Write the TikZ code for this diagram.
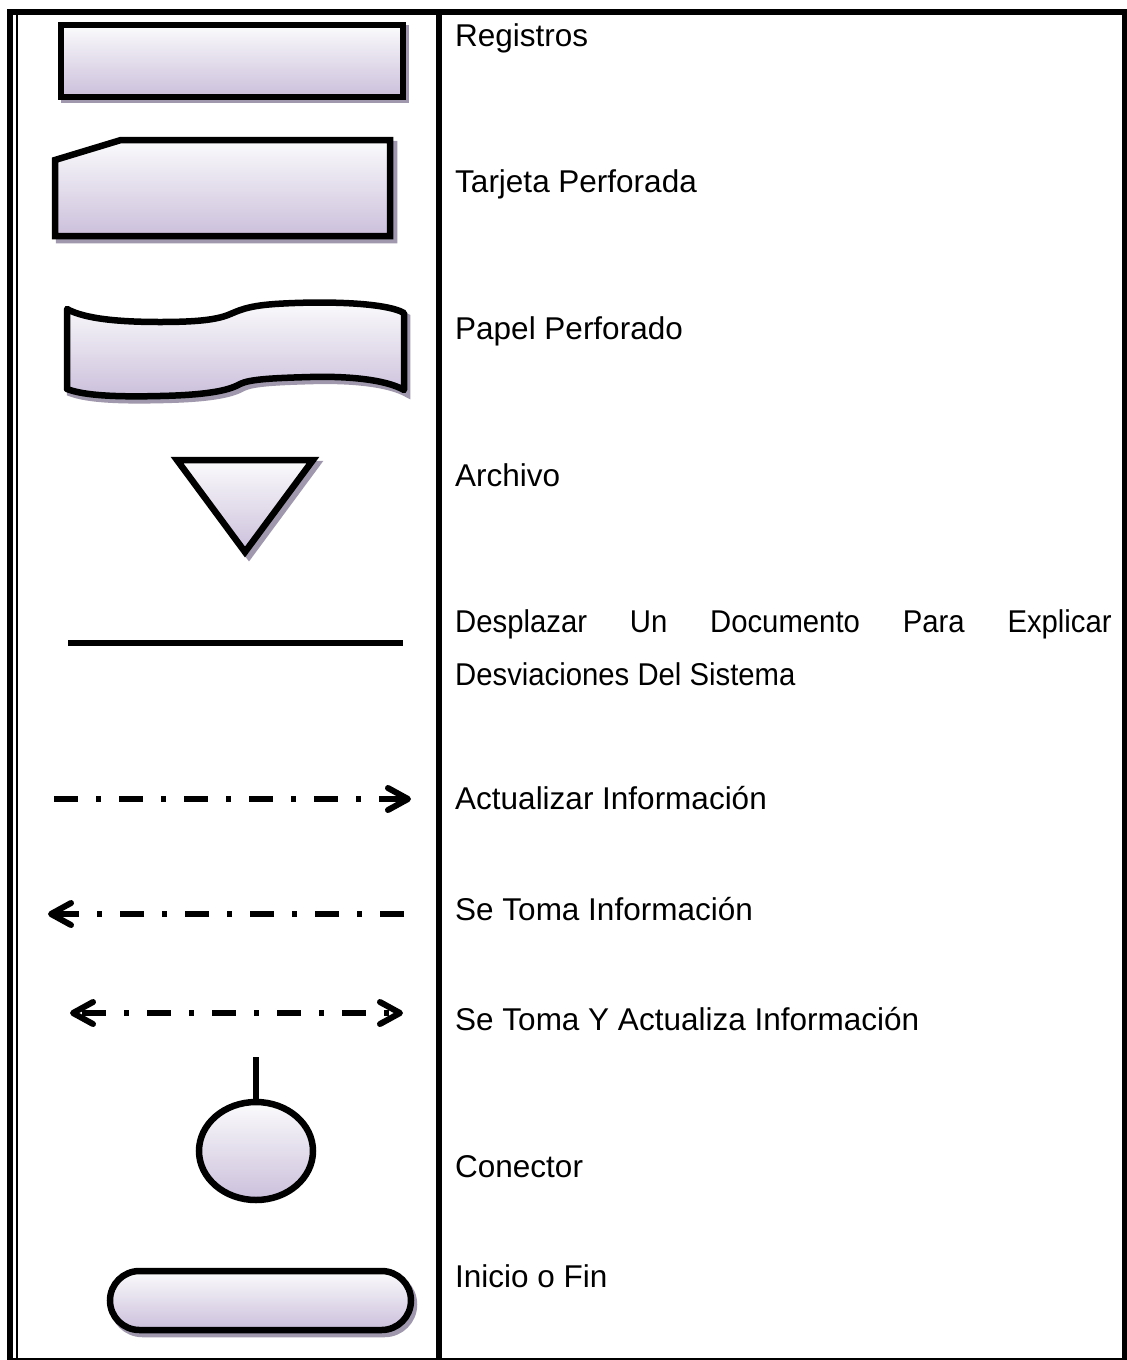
\documentclass[tikz,border=0pt]{standalone}
\usepackage{fontspec}
\setmainfont{Liberation Sans}
\usepackage{graphicx}
\usetikzlibrary{arrows.meta,shapes.geometric}
\definecolor{symtop}{RGB}{251,251,252}
\definecolor{symbot}{RGB}{203,191,219}
\definecolor{shadowc}{RGB}{160,152,172}
\newcommand\lblfont{\fontsize{31.5}{53}\selectfont}
\tikzset{
  sym/.style={draw=black, line width=6.5pt, top color=symtop, bottom color=symbot, line join=miter},
  symshadow/.style={draw=shadowc, fill=shadowc, line width=6.5pt},
  frame/.style={draw=black, line cap=butt},
  dashline/.style={draw=black, line width=6pt, line cap=butt, dash pattern=on 24pt off 18pt on 5pt off 18pt},
  barb/.style={-{Straight Barb[length=20pt,width=22pt,round]}},
  lbl/.style={anchor=base west, inner sep=0pt, font=\lblfont}
}
\begin{document}
\begin{tikzpicture}[x=1pt,y=-1pt]
\useasboundingbox (0,0) rectangle (1127,1360);
\fill[white] (0,0) rectangle (1127,1360);
% frame
\coordinate (tl) at (7,12);
\coordinate (tr) at (1127,12);
\draw[frame, line width=6.5pt] (tl) -- (tr);
\coordinate (lt) at (10,9);
\coordinate (lb) at (10,1360);
\draw[frame, line width=6pt] (lt) -- (lb);
\coordinate (it) at (16.5,15);
\coordinate (ib) at (16.5,1360);
\draw[frame, line width=2pt] (it) -- (ib);
\coordinate (rt) at (1124.5,9);
\coordinate (rb) at (1124.5,1360);
\draw[frame, line width=6pt] (rt) -- (rb);
\coordinate (bl) at (7,1359);
\coordinate (br) at (1127,1359);
\draw[frame, line width=2pt] (bl) -- (br);
\coordinate (dt) at (439,12);
\coordinate (db) at (439,1360);
\draw[frame, line width=6.5pt] (dt) -- (db);

% 1 Registros
\draw[symshadow, shift={(3,3)}] (61,25) rectangle (403,97);
\draw[sym] (61,25) rectangle (403,97);
% 2 Tarjeta perforada
\draw[symshadow, shift={(4,4)}] (55,160) -- (121,140) -- (390,140) -- (390,236) -- (55,236) -- cycle;
\draw[sym] (55,160) -- (121,140) -- (390,140) -- (390,236) -- (55,236) -- cycle;
% 3 Papel perforado
\def\tape{(67,309) .. controls (85,319) and (120,322) .. (160,322)
  .. controls (195,322) and (215,320) .. (228,315)
  .. controls (238,311) and (246,306) .. (275,304)
  .. controls (320,301) and (385,302) .. (404,313)
  -- (404,390)
  .. controls (385,379) and (345,376) .. (310,377)
  .. controls (275,378) and (250,379) .. (240,384)
  .. controls (228,391) and (205,395) .. (160,396)
  .. controls (120,397) and (85,396) .. (67,389) -- cycle}
\draw[symshadow, shift={(3,4)}] \tape;
\draw[sym, line join=round] \tape;
% 4 Archivo
\draw[symshadow, shift={(4,4)}] (177,460) -- (313,460) -- (245,552) -- cycle;
\draw[sym] (177,460) -- (313,460) -- (245,552) -- cycle;
% 5 line
\coordinate (ln1) at (68,643);
\coordinate (ln2) at (403,643);
\draw[line width=6pt] (ln1) -- (ln2);
% 6 Actualizar
\coordinate (a1s) at (54,799);
\coordinate (a1e) at (411,799);
\draw[dashline, barb] (a1s) -- (a1e);
% 7 Se toma
\coordinate (a2s) at (404,914);
\coordinate (a2e) at (48,914);
\draw[dashline, barb] (a2s) -- (a2e);
% 8 Se toma y actualiza
\coordinate (a3s) at (70,1013);
\coordinate (a3e) at (403,1013);
\draw[dashline, dash pattern=on 5pt off 18pt on 24pt off 18pt, dash phase=17pt,
  {Straight Barb[length=20pt,width=22pt,round]}-{Straight Barb[length=20pt,width=22pt,round]}] (a3s) -- (a3e);
% 9 Conector
\node[sym, ellipse, minimum width=114pt, minimum height=98pt, inner sep=0pt] (con) at (256,1151) {};
\coordinate (cont) at (256,1057);
\draw[line width=5.5pt] (cont) -- (con.north);
% 10 Inicio o fin
\draw[symshadow, shift={(3,4)}, rounded corners=29.5pt] (110,1271) rectangle (411,1330);
\draw[sym, rounded corners=29.5pt] (110,1271) rectangle (411,1330);

% labels
\node[lbl] (t1) at (455,46) {Registros};
\node[lbl] (t2) at (455,192) {Tarjeta Perforada};
\node[lbl] (t3) at (455,339) {Papel Perforado};
\node[lbl] (t4) at (455,486) {Archivo};
\node[lbl] (t5a) at (455,632) {\scalebox{0.93}[1]{\hbox to 706pt{Desplazar\hfill Un\hfill Documento\hfill Para\hfill Explicar}}};
\node[lbl] (t5b) at (455,685) {\scalebox{0.93}[1]{Desviaciones Del Sistema}};
\node[lbl] (t6) at (455,809) {Actualizar Información};
\node[lbl] (t7) at (455,920) {Se Toma Información};
\node[lbl] (t8) at (455,1030) {Se Toma Y Actualiza Información};
\node[lbl] (t9) at (455,1177) {Conector};
\node[lbl] (t10) at (455,1287) {Inicio o Fin};
\end{tikzpicture}
\end{document}
